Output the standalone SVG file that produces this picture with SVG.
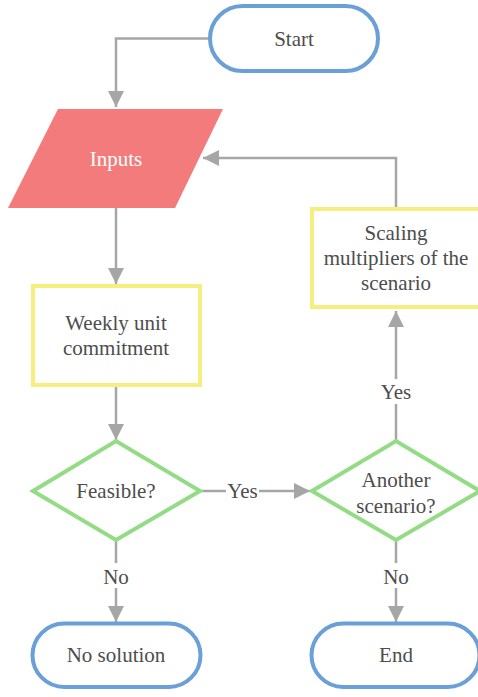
<svg xmlns="http://www.w3.org/2000/svg" width="478" height="697" viewBox="0 0 478 697" font-family="'Liberation Serif', 'Times New Roman', serif">
<style>
.term{fill:#fff;stroke:#6a9fd8;stroke-width:4}
.proc{fill:#fff;stroke:#f5f07e;stroke-width:4}
.dec{fill:#fff;stroke:#93dc85;stroke-width:4}
.io{fill:#f37b7b}
text{font-size:21px;fill:#4d4d4d;text-anchor:middle}
text.tw{fill:#fff}
.c{fill:none;stroke:#a6a6a6;stroke-width:2.5}
.lbl{fill:#fff}
</style>
<defs>
<marker id="ah" markerUnits="userSpaceOnUse" markerWidth="16" markerHeight="16" refX="16" refY="8" orient="auto">
<path d="M0,0 L16,8 L0,16 z" fill="#a6a6a6"/>
</marker>
</defs>
<g id="connectors">
<path class="c" d="M210,38.5 H116 V107" marker-end="url(#ah)"/>
<path class="c" d="M116,208 V284" marker-end="url(#ah)"/>
<path class="c" d="M396,208 V158 H203" marker-end="url(#ah)"/>
<path class="c" d="M116,386 V440" marker-end="url(#ah)"/>
<path class="c" d="M202,491 H310" marker-end="url(#ah)"/>
<path class="c" d="M396,441 V311" marker-end="url(#ah)"/>
<path class="c" d="M116,541 V622" marker-end="url(#ah)"/>
<path class="c" d="M396,541 V622" marker-end="url(#ah)"/>
<rect class="lbl" x="226" y="480" width="33" height="22"/>
<text x="242.5" y="498">Yes</text>
<rect class="lbl" x="380" y="379" width="32" height="25"/>
<text x="396" y="399">Yes</text>
<rect class="lbl" x="102" y="563" width="28" height="25"/>
<text x="116" y="584">No</text>
<rect class="lbl" x="382" y="563" width="28" height="25"/>
<text x="396" y="584">No</text>
</g>
<g id="start">
<rect class="term" x="210" y="6" width="168" height="65" rx="32.5"/>
<text x="294" y="46">Start</text>
</g>
<g id="inputs">
<polygon class="io" points="58,109 223,109 175,208 8,208"/>
<text class="tw" x="116" y="166">Inputs</text>
</g>
<g id="weekly">
<rect class="proc" x="33" y="286" width="167" height="99"/>
<text x="116" y="330">Weekly unit</text>
<text x="116" y="355">commitment</text>
</g>
<g id="scaling">
<rect class="proc" x="312" y="209" width="168" height="98"/>
<text x="396" y="240">Scaling</text>
<text x="396" y="265">multipliers of the</text>
<text x="396" y="290">scenario</text>
</g>
<g id="feasible">
<polygon class="dec" points="33,491 116,441 200,491 116,540"/>
<text x="116" y="498">Feasible?</text>
</g>
<g id="another">
<polygon class="dec" points="312,491 396,441 480,491 396,540"/>
<text x="396" y="487">Another</text>
<text x="396" y="513">scenario?</text>
</g>
<g id="nosolution">
<rect class="term" x="32.5" y="623.5" width="168" height="63.5" rx="31.75"/>
<text x="116" y="662">No solution</text>
</g>
<g id="end">
<rect class="term" x="311.5" y="623.5" width="168" height="63.5" rx="31.75"/>
<text x="396" y="662">End</text>
</g>
</svg>
